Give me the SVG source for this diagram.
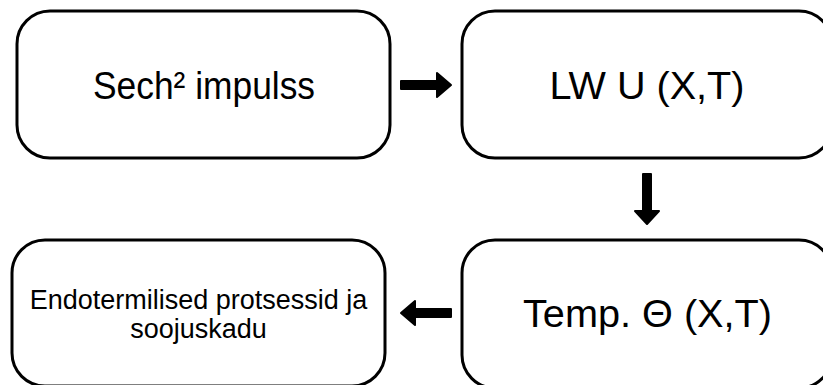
<svg xmlns="http://www.w3.org/2000/svg" width="823" height="385" viewBox="0 0 823 385">
<style>
.box{fill:#fff;stroke:#000;stroke-width:3}
.t{font-family:"Liberation Sans","DejaVu Sans",sans-serif;fill:#000;text-anchor:middle}
.big{font-size:38px}
.small{font-size:27px}
.arr{fill:#000;stroke:#000;stroke-width:2;stroke-linejoin:round}
</style>
<rect width="823" height="385" fill="#fff"/>
<g id="n1">
<rect class="box" x="17" y="11" width="373" height="147" rx="33"/>
<text class="t big" x="204" y="99" textLength="222" lengthAdjust="spacingAndGlyphs">Sech² impulss</text>
</g>
<g id="n2">
<rect class="box" x="462" y="11" width="370" height="147" rx="33"/>
<text class="t big" x="647" y="99" textLength="195" lengthAdjust="spacingAndGlyphs">LW U (X,T)</text>
</g>
<g id="n3">
<rect class="box" x="12" y="240" width="373" height="146" rx="33"/>
<text class="t small" x="198.5" y="309">Endotermilised protsessid ja</text>
<text class="t small" x="198.5" y="338">soojuskadu</text>
</g>
<g id="n4">
<rect class="box" x="462" y="240" width="370" height="148" rx="33"/>
<text class="t big" x="647.5" y="327" textLength="249" lengthAdjust="spacingAndGlyphs">Temp. Θ (X,T)</text>
</g>
<g id="connectors">
<path class="arr" d="M401,81 L437,81 L437,73 L451,85 L437,97 L437,89 L401,89 Z"/>
<path class="arr" d="M643,174 L651,174 L651,211 L659,211 L647,224 L635,211 L643,211 Z"/>
<path class="arr" d="M451,309 L415,309 L415,301 L401,313 L415,325 L415,317 L451,317 Z"/>
</g>
</svg>
